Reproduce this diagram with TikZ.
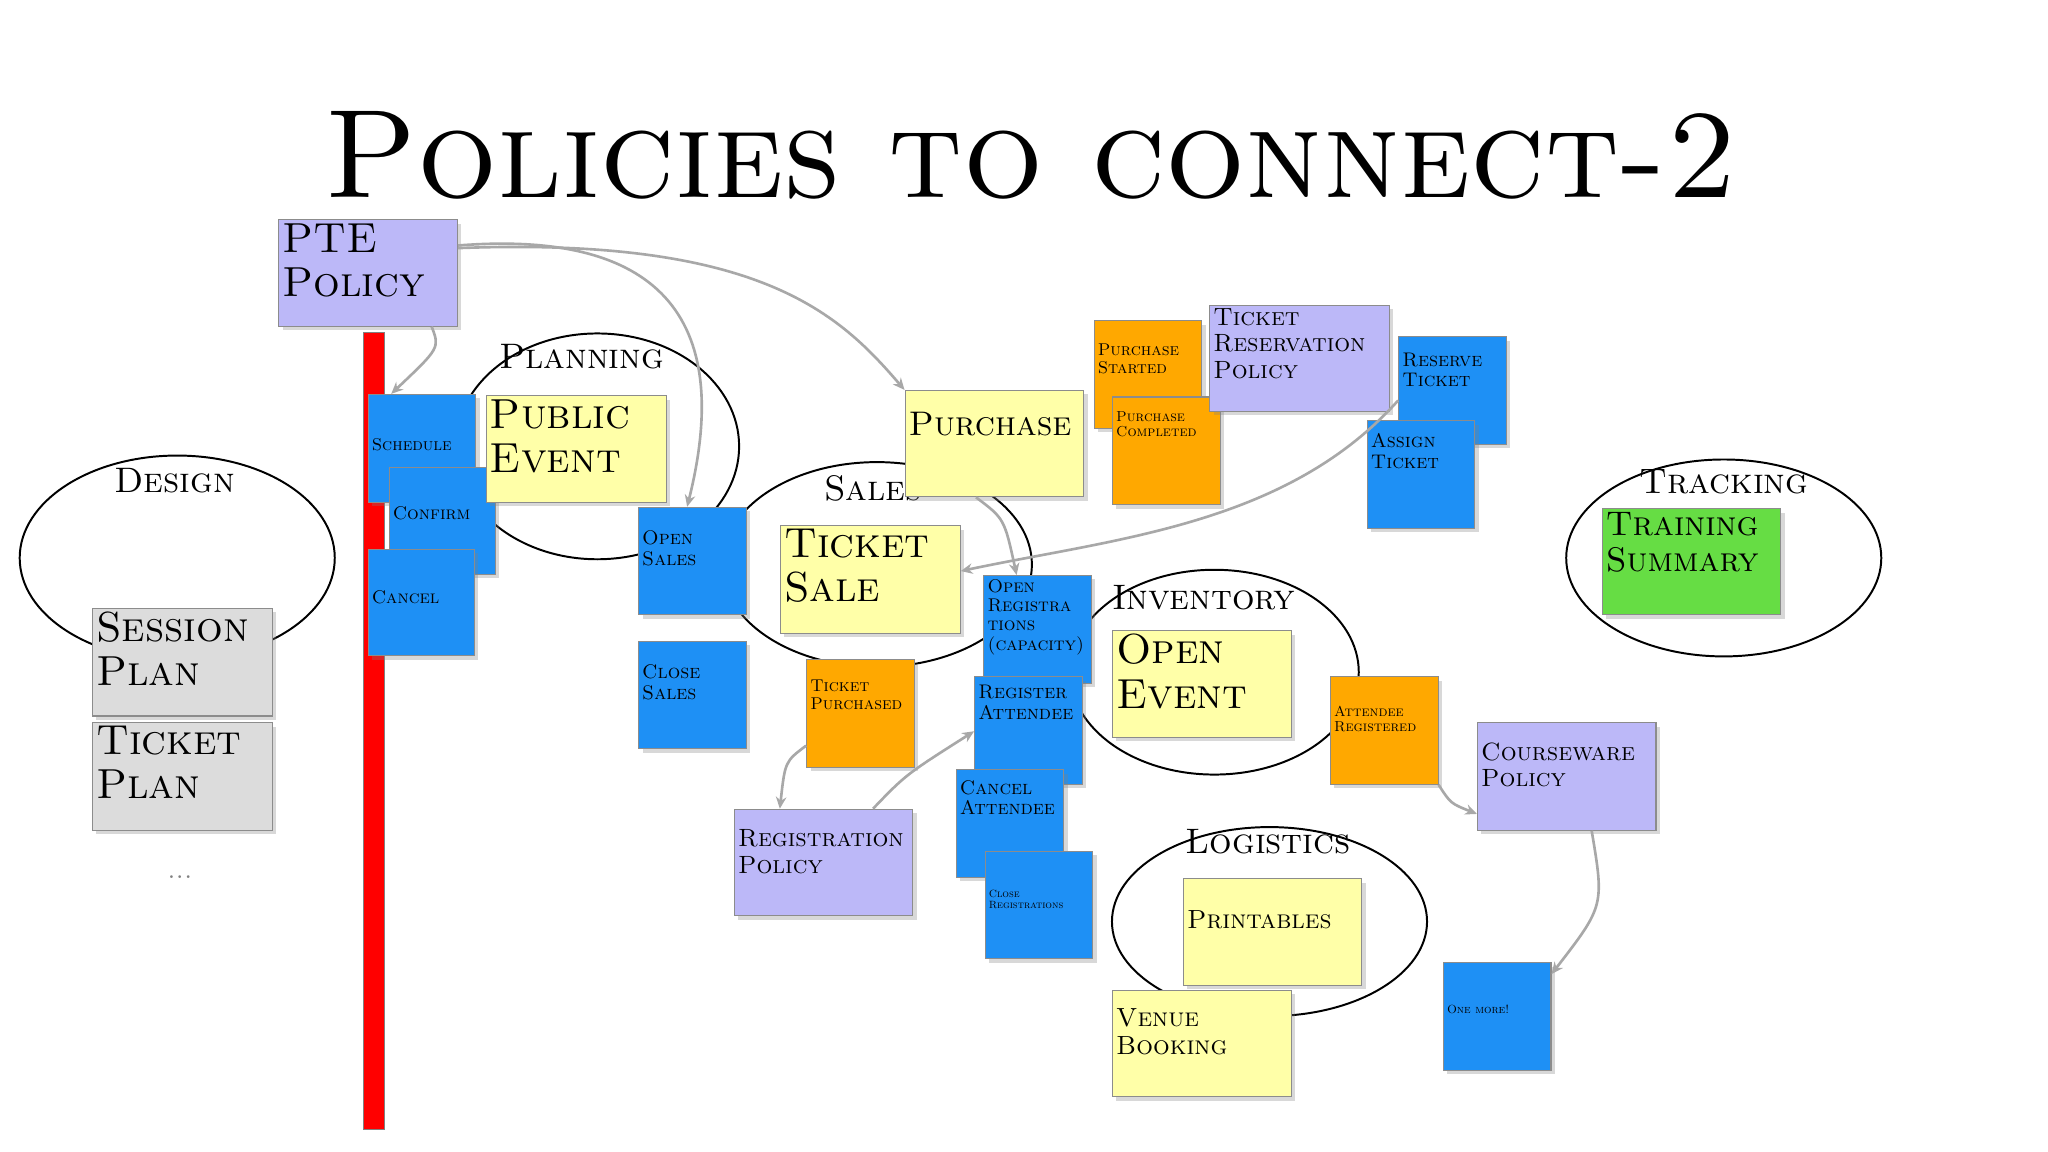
\documentclass[tikz,border=0pt]{standalone}
\usetikzlibrary{shadows,arrows.meta}
\definecolor{nblue}{HTML}{1E90F5}
\definecolor{nyellow}{HTML}{FFFFA8}
\definecolor{norange}{HTML}{FFA800}
\definecolor{npurple}{HTML}{BCB8F8}
\definecolor{ngrey}{HTML}{DCDCDC}
\definecolor{ngreen}{HTML}{66DD44}
\definecolor{arr}{HTML}{A8A8A8}
\newcommand{\fs}[1]{\fontsize{#1pt}{1.05\dimexpr#1pt\relax}\selectfont\scshape}
\newcommand{\stick}[8]{%
  \node[notebox, fill=#6, minimum width=#4pt, minimum height=#5pt, anchor=north west] (#1) at (#2,#3) {};
  \node[anchor=north west, align=left, inner sep=3pt, font=\fs{#7}] at (#1.north west) {#8};}
\tikzset{
  notebox/.style={draw=black!45, line width=0.8pt, inner sep=0pt, drop shadow={shadow xshift=3pt, shadow yshift=-3pt, opacity=0.3}},
  blob/.style={draw=black, line width=1.5pt},
  flow/.style={draw=arr, line width=2pt, -{Stealth[length=9pt,width=8pt]}},
  grp/.style={font=\fs{27}},
}
\begin{document}
\begin{tikzpicture}[x=1pt,y=-1pt]
\useasboundingbox[fill=white] (0,0) rectangle (1560,877.5);
\node[font=\fs{96}] (title) at (785,118) {Policies to connect-2};
% groups
\draw[blob] (135,425) ellipse[x radius=120, y radius=78];
\node[grp] (design) at (133,366) {Design};
\draw[blob] (455,340) ellipse[x radius=108, y radius=86];
\node[grp] (planning) at (443,272) {Planning};
\draw[blob] (668,430) ellipse[x radius=118, y radius=78];
\node[grp] (sales) at (665,372) {Sales};
\draw[blob] (925,512) ellipse[x radius=110, y radius=78];
\node[grp] (inventory) at (917,455) {Inventory};
\draw[blob] (967,702) ellipse[x radius=120, y radius=72];
\node[grp] (logistics) at (966,641) {Logistics};
\draw[blob] (1313,425) ellipse[x radius=120, y radius=75];
\node[grp] (tracking) at (1313,367) {Tracking};
% red bar
\fill[red, draw=black!50] (277,253) rectangle (293,860);
% notes
\stick{pte}{212}{167}{136}{81}{npurple}{32}{PTE\\Policy}
\stick{schedule}{280}{300}{82}{82}{nblue}{13}{\\[26pt]Schedule}
\stick{confirm}{296}{356}{81}{81}{nblue}{14}{\\[22pt]Confirm}
\stick{cancel}{280}{418}{81}{81}{nblue}{14}{\\[24pt]Cancel}
\stick{public}{370}{301}{137}{81}{nyellow}{32}{Public\\Event}
\stick{session}{70}{463}{137}{82}{ngrey}{32}{Session\\Plan}
\stick{ticketplan}{70}{550}{137}{82}{ngrey}{32}{Ticket\\Plan}
\node[font=\fs{20}, text=black!50] (dots) at (137,668) {...};
\stick{opensales}{486}{386}{82}{82}{nblue}{15}{\\[10pt]Open\\Sales}
\stick{closesales}{486}{488}{82}{82}{nblue}{15}{\\[10pt]Close\\Sales}
\stick{ticketsale}{594}{400}{137}{82}{nyellow}{32}{Ticket\\Sale}
\stick{purchase}{689}{297}{136}{81}{nyellow}{26}{\\[4pt]Purchase}
\stick{pstarted}{833}{244}{82}{82}{norange}{13}{\\[10pt]Purchase\\Started}
\stick{pcompleted}{847}{302}{82}{82}{norange}{11}{\\[4pt]Purchase\\Completed}
\stick{trp}{921}{232}{137}{81}{npurple}{19}{Ticket\\Reservation\\Policy}
\stick{reserve}{1065}{256}{82}{82}{nblue}{15}{\\[4pt]Reserve\\Ticket}
\stick{assign}{1041}{320}{82}{82}{nblue}{15}{\\[2pt]Assign\\Ticket}
\stick{openreg}{749}{438}{82}{82}{nblue}{14}{Open\\Registra\\tions\\(capacity)}
\stick{regatt}{742}{515}{82}{82}{nblue}{15}{\\[-2pt]Register\\Attendee}
\stick{cancelatt}{728}{586}{82}{82}{nblue}{15}{\\[0pt]Cancel\\Attendee}
\stick{closereg}{750}{648}{82}{82}{nblue}{8}{\\[24pt]Close\\Registrations}
\stick{tpurchased}{614}{502}{82}{82}{norange}{13}{\\[8pt]Ticket\\Purchased}
\stick{regpolicy}{559}{616}{136}{81}{npurple}{19}{\\[6pt]Registration\\Policy}
\stick{openevent}{847}{480}{136}{81}{nyellow}{32}{Open\\Event}
\stick{attreg}{1013}{515}{82}{82}{norange}{11}{\\[16pt]Attendee\\Registered}
\stick{courseware}{1125}{550}{136}{82}{npurple}{19}{\\[6pt]Courseware\\Policy}
\stick{printables}{901}{669}{136}{81}{nyellow}{20}{\\[14pt]Printables}
\stick{venue}{847}{754}{136}{81}{nyellow}{20}{\\[4pt]Venue\\Booking}
\stick{onemore}{1099}{733}{82}{82}{nblue}{9}{\\[26pt]One more!}
\stick{training}{1220}{387}{136}{81}{ngreen}{26}{Training\\Summary}
% connectors
\draw[flow] (pte.north east) ++(0,22) .. controls (580,180) and (640,240) .. (purchase.north west);
\draw[flow] (pte.north east) ++(0,20) .. controls (500,175) and (560,240) .. ([xshift=-4pt]opensales.north);
\draw[flow] ([xshift=-20pt]pte.south east) .. controls (335,265) .. ([xshift=18pt]schedule.north west);
\draw[flow] ([xshift=-14pt]purchase.south) .. controls (765,395) .. ([xshift=-16pt]openreg.north);
\draw[flow] ([xshift=24pt,yshift=15pt]assign.north west) .. controls (980,400) and (850,410) .. ([yshift=-35pt]ticketsale.north east);
\draw[flow] ([yshift=-66pt]tpurchased.north west) .. controls (598,580) .. ([xshift=35pt]regpolicy.north west);
\draw[flow] ([xshift=106pt]regpolicy.north west) .. controls (690,590) .. ([yshift=-42pt]regatt.north west);
\draw[flow] (attreg.south east) .. controls (1105,612) .. ([yshift=-70pt]courseware.north west);
\draw[flow] ([xshift=19pt]courseware.south) .. controls (1222,690) .. ([yshift=-9pt]onemore.north east);
\end{tikzpicture}
\end{document}
